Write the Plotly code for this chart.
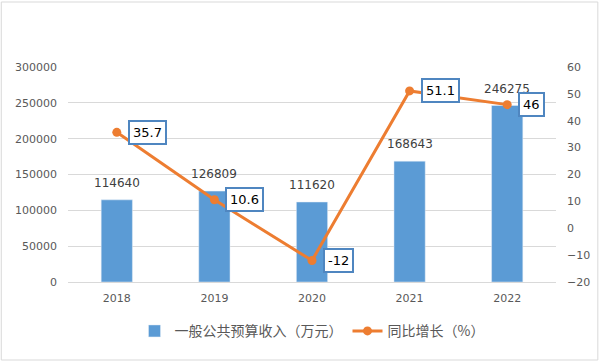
import plotly.graph_objects as go

years = ["2018", "2019", "2020", "2021", "2022"]
revenue = [114640, 126809, 111620, 168643, 246275]
growth = [35.7, 10.6, -12, 51.1, 46]
growth_labels = ["35.7", "10.6", "-12", "51.1", "46"]

BLUE = "#5b9bd5"
ORANGE = "#ed7d31"
TICK = "#595959"
FONT = "DejaVu Sans, Noto Sans CJK SC, sans-serif"

W, H = 602, 362
ml, mr, mt, mb = 68, 44, 67, 80

fig = go.Figure()
fig.add_trace(go.Bar(
    x=years, y=revenue, name="一般公共预算收入（万元）",
    marker_color=BLUE, width=0.32,
))
fig.add_trace(go.Scatter(
    x=years, y=growth, name="同比增长（%）", yaxis="y2",
    mode="lines+markers",
    line=dict(color=ORANGE, width=3),
    marker=dict(color=ORANGE, size=9),
))

for i, v in enumerate(revenue):
    fig.add_annotation(
        x=i, y=v, xref="x", yref="y", text=str(v), showarrow=False,
        xanchor="center", yanchor="bottom", yshift=8,
        font=dict(color="#404040", size=12, family=FONT),
    )

for i, (g, lab) in enumerate(zip(growth, growth_labels)):
    fig.add_annotation(
        x=i, y=g, xref="x", yref="y2", text=lab, showarrow=False,
        xanchor="left", yanchor="middle", xshift=11,
        font=dict(color="#000000", size=13, family=FONT),
        bgcolor="white", bordercolor="#4f86c0", borderwidth=2, borderpad=3,
    )

pw = W - ml - mr
ph = H - mt - mb
fig.add_shape(
    type="rect", xref="paper", yref="paper",
    x0=(-ml + 1) / pw, x1=(W - ml - 2) / pw,
    y0=-(mb - 2) / ph, y1=(H - mb - 2) / ph,
    line=dict(color="#d9d9d9", width=1), layer="below",
)

fig.update_layout(
    width=W, height=H,
    margin=dict(l=ml, r=mr, t=mt, b=mb),
    paper_bgcolor="white", plot_bgcolor="white",
    font=dict(family=FONT, color=TICK, size=11),
    xaxis=dict(type="category", range=[-0.5, 4.5], showgrid=False,
               showline=True, linecolor="#d9d9d9",
               ticks="", ticklabelstandoff=6,
               tickfont=dict(size=11, color=TICK)),
    yaxis=dict(range=[0, 300000], dtick=50000, showgrid=True,
               gridcolor="#d9d9d9", zeroline=False, ticks="",
               tickformat="d", ticklabelstandoff=10,
               tickfont=dict(size=11, color=TICK)),
    yaxis2=dict(range=[-20, 60], dtick=10, overlaying="y", side="right",
                showgrid=False, zeroline=False, ticks="",
                ticklabelstandoff=10,
                tickfont=dict(size=11, color=TICK)),
    legend=dict(orientation="h", x=0.5, xanchor="center", y=-0.155,
                yanchor="top", font=dict(size=14, color=TICK,
                family="Noto Sans CJK SC, sans-serif")),
    showlegend=True,
)

fig.write_html("out.html", config={"displayModeBar": False},
               post_script="document.body.style.margin='0';document.body.style.overflow='hidden';")
